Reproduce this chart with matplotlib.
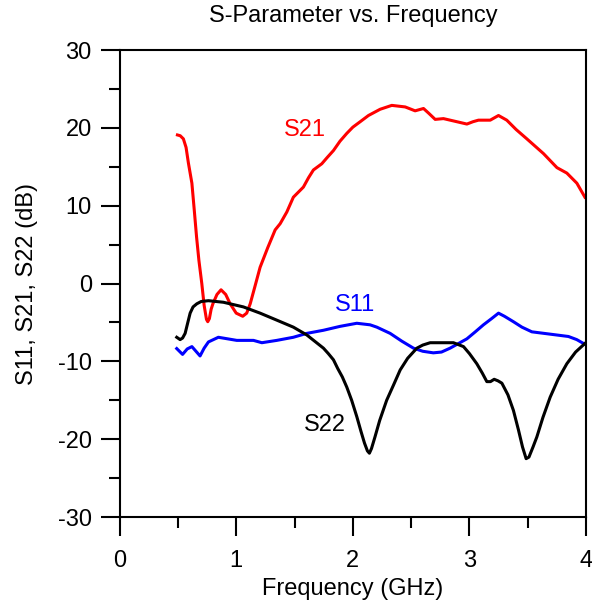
import matplotlib.pyplot as plt
from matplotlib.ticker import MultipleLocator

# S21 (merah)
s21_f = [0.496, 0.52, 0.547, 0.57, 0.59, 0.62, 0.64, 0.66, 0.68, 0.705, 0.725, 0.745, 0.756, 0.77,
         0.785, 0.80, 0.835, 0.87, 0.91, 0.948, 1.0, 1.056, 1.09, 1.12, 1.16, 1.205, 1.27, 1.334,
         1.377, 1.434, 1.49, 1.576, 1.62, 1.662, 1.734, 1.78, 1.834, 1.89, 1.948, 2.0, 2.063,
         2.134, 2.234, 2.334, 2.449, 2.534, 2.606, 2.65, 2.706, 2.777, 2.892, 2.978, 3.03, 3.077,
         3.178, 3.249, 3.32, 3.40, 3.492, 3.635, 3.75, 3.835, 3.921, 3.99]
s21_db = [19.1, 19.0, 18.6, 17.5, 15.5, 12.9, 9.5, 6.0, 3.0, 0.0, -2.8, -4.6, -4.9, -4.5,
          -3.3, -2.6, -1.4, -0.8, -1.4, -2.6, -3.8, -4.2, -3.8, -2.6, -0.4, 2.1, 4.6, 6.9,
          7.7, 9.2, 11.1, 12.4, 13.6, 14.6, 15.4, 16.2, 17.1, 18.3, 19.3, 20.1, 20.8,
          21.6, 22.4, 22.9, 22.7, 22.2, 22.5, 21.9, 21.1, 21.2, 20.8, 20.5, 20.8, 21.0,
          21.0, 21.6, 21.0, 19.8, 18.6, 16.7, 14.9, 14.2, 12.9, 11.1]

# S11 (biru)
s11_f = [0.49, 0.54, 0.58, 0.62, 0.655, 0.69, 0.725, 0.762, 0.847, 1.005, 1.148, 1.22, 1.348, 1.49,
         1.605, 1.748, 1.89, 2.034, 2.148, 2.206, 2.32, 2.42, 2.52, 2.60, 2.69, 2.76, 2.834, 2.978,
         3.05, 3.12, 3.19, 3.249, 3.30, 3.377, 3.45, 3.535, 3.692, 3.849, 3.92, 3.99]
s11_db = [-8.35, -9.1, -8.4, -8.1, -8.7, -9.3, -8.3, -7.5, -6.9, -7.3, -7.3, -7.6, -7.3, -6.9,
          -6.4, -6.0, -5.5, -5.1, -5.3, -5.6, -6.4, -7.4, -8.3, -8.7, -8.9, -8.8, -8.3, -7.1,
          -6.2, -5.3, -4.5, -3.8, -4.2, -4.9, -5.6, -6.2, -6.5, -6.8, -7.2, -7.8]

# S22 (hitam)
s22_f = [0.49, 0.519, 0.54, 0.562, 0.585, 0.605, 0.63, 0.662, 0.70, 0.762, 0.89, 1.062, 1.205,
         1.348, 1.49, 1.605, 1.748, 1.79, 1.834, 1.87, 1.91, 1.948, 1.99, 2.034, 2.07, 2.10,
         2.125, 2.142, 2.16, 2.19, 2.23, 2.29, 2.35, 2.406, 2.47, 2.549, 2.60, 2.663, 2.863,
         2.949, 3.0, 3.063, 3.11, 3.149, 3.18, 3.212, 3.245, 3.278, 3.33, 3.377, 3.42, 3.455,
         3.486, 3.51, 3.545, 3.578, 3.63, 3.692, 3.76, 3.835, 3.91, 3.99]
s22_db = [-6.9, -7.2, -7.0, -6.4, -5.0, -3.8, -3.0, -2.6, -2.3, -2.2, -2.4, -3.0, -3.8,
          -4.7, -5.6, -6.6, -8.3, -9.0, -9.8, -10.9, -12.0, -13.3, -15.0, -17.1, -19.0, -20.5,
          -21.5, -21.8, -21.2, -19.7, -17.6, -15.0, -13.0, -11.1, -9.6, -8.3, -7.9, -7.6, -7.6,
          -8.1, -9.0, -10.3, -11.5, -12.6, -12.6, -12.3, -12.5, -12.8, -14.3, -16.3, -18.8, -21.0,
          -22.5, -22.3, -21.0, -19.7, -17.2, -14.6, -12.3, -10.3, -8.8, -7.7]

plt.rcParams['font.family'] = ['Liberation Sans', 'DejaVu Sans']
plt.rcParams['axes.unicode_minus'] = False

fig = plt.figure(figsize=(5.92, 6.04), dpi=100)
ax = fig.add_axes([0.202, 0.144, 0.788, 0.773])

ax.plot(s21_f, s21_db, color='#ff0000', lw=2.2)
ax.plot(s11_f, s11_db, color='#0000ff', lw=2.2)
ax.plot(s22_f, s22_db, color='black', lw=2.2)

ax.text(1.59, 19.7, 'S21', color='#ff0000', fontsize=17, ha='center', va='center')
ax.text(2.02, -2.8, 'S11', color='#0000ff', fontsize=17, ha='center', va='center')
ax.text(1.76, -18.2, 'S22', color='black', fontsize=17, ha='center', va='center')

ax.set_xlim(0, 4)
ax.set_ylim(-30, 30)
ax.xaxis.set_major_locator(MultipleLocator(1))
ax.xaxis.set_minor_locator(MultipleLocator(0.5))
ax.yaxis.set_major_locator(MultipleLocator(10))
ax.yaxis.set_minor_locator(MultipleLocator(5))
ax.tick_params(which='major', direction='out', length=14, width=1.5, labelsize=17)
ax.tick_params(which='minor', direction='out', length=8, width=1.5)
ax.tick_params(axis='x', which='major', pad=10)
ax.tick_params(axis='y', which='major', pad=6)
for sp in ax.spines.values():
    sp.set_linewidth(1.5)

ax.set_xlabel('Frequency (GHz)', fontsize=17, labelpad=4)
ax.set_ylabel('S11, S21, S22 (dB)', fontsize=17, labelpad=14)
ax.set_title('S-Parameter vs. Frequency', fontsize=17, pad=20)

fig.savefig('out.png', dpi=100)
